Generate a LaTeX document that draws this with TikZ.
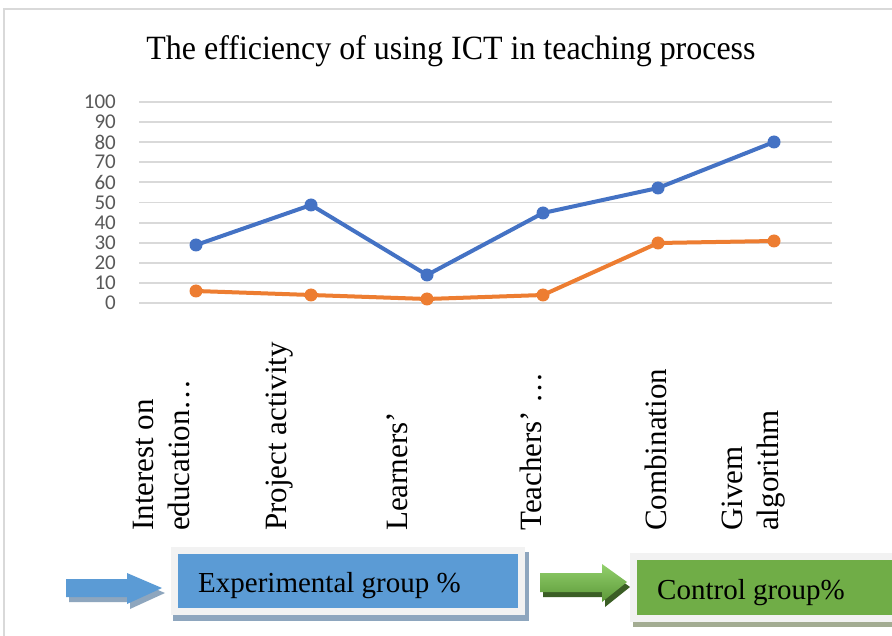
\documentclass[tikz,border=0pt]{standalone}
\usepackage{fontspec}
\setmainfont{Liberation Serif}
\newfontfamily\axisfont{Carlito}
\definecolor{expblue}{HTML}{4472C4}
\definecolor{ctrlorange}{HTML}{ED7D31}
\definecolor{gridgray}{HTML}{D9D9D9}
\definecolor{ticktext}{HTML}{595959}
\definecolor{framegray}{HTML}{F2F2F2}
\definecolor{legblue}{HTML}{5B9BD5}
\definecolor{legblueshadow}{HTML}{8EA6BE}
\definecolor{leggreen}{HTML}{70AD47}
\definecolor{leggreenshadow}{HTML}{A3AC92}
\definecolor{greenlight}{HTML}{92D06C}
\definecolor{greendark}{HTML}{5C9838}
\definecolor{greenshadow}{HTML}{3B5E25}
\begin{document}
\begin{tikzpicture}[x=1pt,y=-1pt,
    grid/.style={gridgray,line width=1.5pt},
    tick/.style={anchor=east,inner sep=0pt,text=ticktext,font=\axisfont\fontsize{21}{24}\selectfont},
    cat/.style={rotate=90,anchor=west,inner sep=0pt,align=left,font=\fontsize{31}{36}\selectfont},
    bdot/.style={circle,fill=expblue,inner sep=0pt,minimum size=13pt},
    odot/.style={circle,fill=ctrlorange,inner sep=0pt,minimum size=13pt},
    legframe/.style={draw=framegray,line width=7pt,inner sep=0pt},
    legtext/.style={anchor=base west,inner sep=0pt,font=\fontsize{29}{34}\selectfont}]
    \fill[white] (0,0) rectangle (892,636);
    \useasboundingbox (0,0) rectangle (892,636);
    \draw[gridgray,line width=2pt] (4,640) -- (4,9.5) -- (900,9.5);
    \node[font=\fontsize{34}{40}\selectfont,xscale=0.94,anchor=base] (title) at (451,60) {The efficiency of using ICT in teaching process};
    \begin{scope}
        \draw[grid] (139,303) -- (832,303);
        \draw[grid] (139,283) -- (832,283);
        \draw[grid] (139,263) -- (832,263);
        \draw[grid] (139,243) -- (832,243);
        \draw[grid] (139,223) -- (832,223);
        \draw[grid] (139,202.5) -- (832,202.5);
        \draw[grid] (139,182) -- (832,182);
        \draw[grid] (139,162) -- (832,162);
        \draw[grid] (139,142) -- (832,142);
        \draw[grid] (139,122) -- (832,122);
        \draw[grid] (139,102) -- (832,102);
    \end{scope}
    \node[tick] (t0) at (116,303) {0};
    \node[tick] (t10) at (116,283) {10};
    \node[tick] (t20) at (116,263) {20};
    \node[tick] (t30) at (116,243) {30};
    \node[tick] (t40) at (116,223) {40};
    \node[tick] (t50) at (116,202.5) {50};
    \node[tick] (t60) at (116,182) {60};
    \node[tick] (t70) at (116,162) {70};
    \node[tick] (t80) at (116,142) {80};
    \node[tick] (t90) at (116,122) {90};
    \node[tick] (t100) at (116,102) {100};
    \begin{scope}
        \node[odot] (o1) at (196,291) {};
        \node[odot] (o2) at (311,295) {};
        \node[odot] (o3) at (427,299) {};
        \node[odot] (o4) at (543,295) {};
        \node[odot] (o5) at (658,243) {};
        \node[odot] (o6) at (774,241) {};
        \draw[ctrlorange,line width=4pt,line join=round] (o1.center) -- (o2.center) -- (o3.center) -- (o4.center) -- (o5.center) -- (o6.center);
    \end{scope}
    \begin{scope}
        \node[bdot] (b1) at (196,245) {};
        \node[bdot] (b2) at (311,205) {};
        \node[bdot] (b3) at (427,275) {};
        \node[bdot] (b4) at (543,213) {};
        \node[bdot] (b5) at (658,188) {};
        \node[bdot] (b6) at (774,142) {};
        \draw[expblue,line width=4pt,line join=round] (b1.center) -- (b2.center) -- (b3.center) -- (b4.center) -- (b5.center) -- (b6.center);
    \end{scope}
    \node[cat] (c1) at (162,531) {Interest on\\education…};
    \node[cat] (c2) at (280,531) {Project activity};
    \node[cat] (c3) at (397,531) {Learners’};
    \node[cat] (c4) at (531,531) {Teachers’ …};
    \node[cat] (c5) at (656,531) {Combination};
    \node[cat] (c6) at (754,531) {Givem\\algorithm};
    % legend
    \fill[legblueshadow,shift={(3,5)}] (66,579) -- (127,579) -- (127,573) -- (162,588) -- (127,604) -- (127,597) -- (66,597) -- cycle;
    \fill[legblue] (66,579) -- (127,579) -- (127,573) -- (162,588) -- (127,604) -- (127,597) -- (66,597) -- cycle;
    \fill[legblueshadow] (173,552) rectangle (529,621);
    \node[legframe,fill=legblue,minimum width=347pt,minimum height=61pt] (expbox) at (348,581) {};
    \node[legtext] (exptext) at (198,592) {Experimental group \%};
    \fill[greenshadow,shift={(3,5)}] (540,573) -- (602,573) -- (602,564) -- (627,582) -- (602,602) -- (602,592) -- (540,592) -- cycle;
    \shade[top color=greenlight,bottom color=greendark] (540,573) -- (602,573) -- (602,564) -- (627,582) -- (602,602) -- (602,592) -- (540,592) -- cycle;
    \fill[leggreenshadow] (633,558) rectangle (904,627);
    \node[legframe,fill=leggreen,minimum width=267pt,minimum height=62pt] (ctrlbox) at (767,587.5) {};
    \node[legtext] (ctrltext) at (657,599) {Control group\%};
\end{tikzpicture}
\end{document}
